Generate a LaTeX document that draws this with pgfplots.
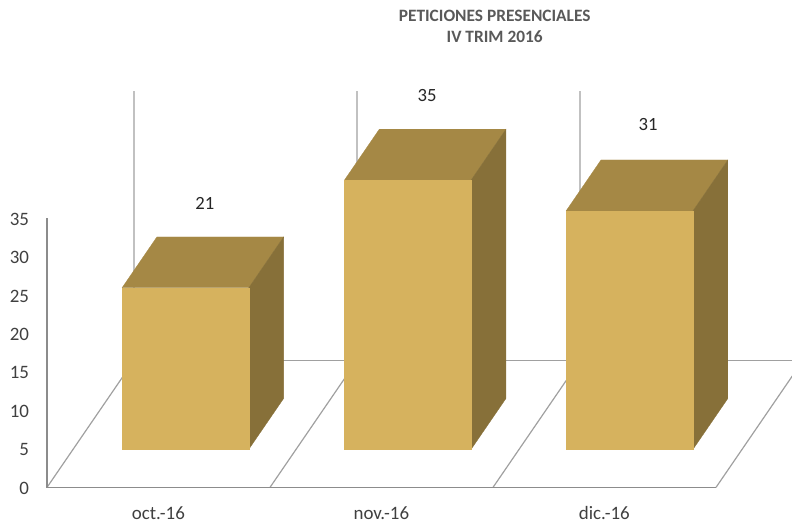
\documentclass[border=0pt]{standalone}
\usepackage{pgfplots}
\usepackage{fontspec}
\setmainfont{Carlito}
\pgfplotsset{compat=1.18}
\definecolor{barfront}{HTML}{D6B25E}
\definecolor{bartop}{HTML}{A58845}
\definecolor{barside}{HTML}{877039}
\definecolor{gridgray}{HTML}{A0A0A0}
\definecolor{axisgray}{HTML}{8C8C8C}
\definecolor{labelgray}{HTML}{404040}
\definecolor{titlegray}{HTML}{595959}

% One box: top, side and front faces for a category spanning #1..#2 with height #3
\newcommand{\drawbox}[3]{%
  \addplot3[fill=bartop,draw=bartop,line width=0.2pt] coordinates {(#1,0.3,#3) (#2,0.3,#3) (#2,0.7,#3) (#1,0.7,#3)} -- cycle;
  \addplot3[fill=barside,draw=barside,line width=0.2pt] coordinates {(#2,0.3,0) (#2,0.7,0) (#2,0.7,#3) (#2,0.3,#3)} -- cycle;
  \addplot3[fill=barfront,draw=barfront,line width=0.2pt] coordinates {(#1,0.3,0) (#2,0.3,0) (#2,0.3,#3) (#1,0.3,#3)} -- cycle;
}

\begin{document}
\begin{tikzpicture}[x=1pt,y=1pt]
\useasboundingbox (0,0) rectangle (594,392.25);
\begin{axis}[
  anchor=origin,
  at={(35.25pt,26.7pt)},
  x={(167.25pt,0pt)},
  y={(65.25pt,95.25pt)},
  z={(0pt,5.77pt)},
  xmin=0, xmax=3, ymin=0, ymax=1, zmin=0, zmax=35,
  clip=false,
  axis line style={draw=none},
  major tick style={draw=none},
  xtick={0.5,1.5,2.5},
  xticklabels={oct.-16,nov.-16,dic.-16},
  ytick=\empty,
  ztick={0,5,...,35},
  xticklabel pos=lower,
  zticklabel pos=left,
  tick label style={font=\fontsize{14.2}{17}\selectfont,text=labelgray},
  x tick label style={yshift=-11pt,xshift=2.5pt},
  z tick label style={anchor=east,xshift=-10pt,yshift=-0.7pt},
  /pgf/number format/assume math mode=true,
]
% Floor and walls
\addplot3[gridgray,line width=0.9pt] coordinates {(0,1,0) (3,1,0)};
\addplot3[gridgray,line width=0.9pt] coordinates {(0,0,0) (0,1,0) (0,1,35)};
\addplot3[gridgray,line width=0.9pt] coordinates {(1,0,0) (1,1,0) (1,1,35)};
\addplot3[gridgray,line width=0.9pt] coordinates {(2,0,0) (2,1,0) (2,1,35)};
\addplot3[gridgray,line width=0.9pt] coordinates {(3,0,0) (3,1,0)};
\addplot3[axisgray,line width=0.9pt] coordinates {(0,0,35) (0,0,0) (3,0,0)};
% Monthly requests
\drawbox{0.2197}{0.788}{21}
\drawbox{1.217}{1.785}{35}
\drawbox{2.211}{2.78}{31}
\node[font=\fontsize{14}{17}\selectfont,text=black!85] at (axis cs:0.5,0.5,21) [yshift=44pt,xshift=2.2pt] {21};
\node[font=\fontsize{14}{17}\selectfont,text=black!85] at (axis cs:1.5,0.5,35) [yshift=44pt,xshift=1.6pt] {35};
\node[font=\fontsize{14}{17}\selectfont,text=black!85] at (axis cs:2.5,0.5,31) [yshift=45.5pt,xshift=0pt] {31};
\end{axis}
\node[font=\fontsize{13}{16}\selectfont\bfseries,text=titlegray,align=center] at (371,372.5) {PETICIONES PRESENCIALES\\IV TRIM 2016};
\end{tikzpicture}
\end{document}
